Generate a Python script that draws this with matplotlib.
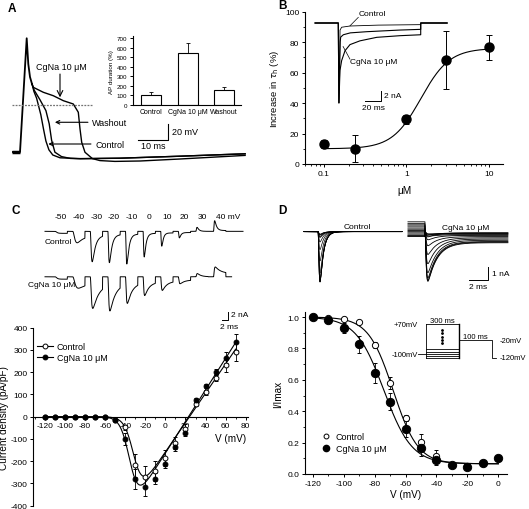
import numpy as np
import matplotlib.pyplot as plt
from matplotlib.lines import Line2D
from matplotlib.ticker import MultipleLocator, FixedLocator, NullFormatter

plt.rcParams['font.family'] = ['Liberation Sans', 'DejaVu Sans']
plt.rcParams['axes.unicode_minus'] = False
plt.rcParams['axes.facecolor'] = 'none'
plt.rcParams['axes.linewidth'] = 0.8
for a in ('xtick', 'ytick'):
    plt.rcParams[a + '.direction'] = 'out'
    plt.rcParams[a + '.major.size'] = 2.5
    plt.rcParams[a + '.minor.size'] = 1.5
    plt.rcParams[a + '.major.width'] = 0.7
    plt.rcParams[a + '.minor.width'] = 0.6
    plt.rcParams[a + '.major.pad'] = 1.5

# ---------------- data ----------------
# A: action potentials (ms, mV)
ap_up_t = [0, 2.67, 4.9, 5.43, 6.0, 6.67]
ap_up_v = [-58.75, -58.75, 83.4, 51.25, 35, 26.25]
ap_ctrl_t = [7.3, 8.2, 9.6, 10.5, 11.3, 12.3, 13.6, 16, 22.7, 36, 56, 77.7]
ap_ctrl_v = [17, 8.5, -12, -30, -45, -56, -62.5, -66, -67, -66.5, -64, -61]
ap_wash_t = [7.4, 9.33, 11.3, 12.4, 13.2, 14.3, 16.5, 19.5, 22.7, 36, 56, 77.7]
ap_wash_v = [18.5, 6.5, -7, -23.5, -44, -59, -64.5, -66.8, -67.2, -66.5, -64, -61]
ap_cgna_t = [7.1, 10.43, 13.77, 17.1, 20.43, 22.1, 22.67, 23.23, 24.33, 26.8,
             29.33, 34.3, 42.67, 56, 77.7]
ap_cgna_v = [22.1, 15.9, 11.6, 5.4, 1.25, -9.1, -30, -46.6, -59.1, -67,
             -69.5, -70.5, -70, -67.5, -63]

apd_labels = ['Control', 'CgNa 10 μM', 'Washout']
apd_mean = [100, 550, 158]
apd_err = [33, 100, 35]

# B: dose response
conc = [0.1, 0.24, 1, 3, 10]
tau_incr = [13, 10, 29.5, 68.5, 76.5]
tau_err = [2.5, 9, 3, 19, 8.5]
hill_bottom, hill_top, hill_ec50, hill_n = 10, 76, 1.5, 2.5

# B inset currents (ms from step onset, nA)
b_ctrl_t = [-29, 0, 0.8, 2.2, 4.2, 14.6, 50, 103, 103.01, 136]
b_ctrl_i = [0, 0, -17, -1.5, -0.9, -0.64, -0.45, -0.35, 0, 0]
b_mid_t = [-29, 0, 0.8, 2.4, 3, 6.3, 15, 35.5, 77, 103, 103.01, 136]
b_mid_i = [0, 0, -17, -4, -3, -2.5, -2.1, -1.85, -1.5, -1.35, 0, 0]
b_cgna_t = [-29, 0, 0.8, 2.1, 4.2, 8.4, 14.6, 27, 48, 77, 103, 103.01, 136]
b_cgna_i = [0, 0, -17, -10.1, -8, -5.9, -4.6, -3.8, -3.05, -2.7, -2.5, 0, 0]

# C: current families (nA) per test step
c_steps = ['-50', '-40', '-30', '-20', '-10', '0', '10', '20', '30', '40 mV']
c_ctrl_peak = [-0.5, -3.2, -7.8, -8.0, -8.3, -6.5, -3.8, -1.7, 1.0, 2.7]
c_cgna_peak = [-0.6, -3.1, -8.1, -8.7, -6.8, -4.8, -3.5, -1.8, 0.8, 2.5]
c_ctrl_late = [-0.5, -1.3, -1.0, -0.8, -0.7, -0.5, -0.4, -0.3, 0.0, 0.2]
c_cgna_late = [-0.6, -1.6, -1.8, -1.7, -1.5, -1.3, -1.1, -0.8, 0.0, 0.8]
c_tau_ctrl = [30, 1.5, 1.0, 0.8, 0.7, 0.6, 0.5, 0.5, 0.6, 0.6]
c_tau_cgna = [30, 2.5, 2.0, 1.8, 1.6, 1.5, 1.5, 1.5, 1.2, 1.8]
c_tau_act = [0.4, 0.6, 0.25, 0.2, 0.18, 0.15, 0.15, 0.15, 0.15, 0.15]

# C: I-V relation
iv_v = [-120, -110, -100, -90, -80, -70, -60, -50, -40, -30, -20, -10, 0,
        10, 20, 30, 40, 50, 60, 70]
iv_ctrl = [0, 0, 0, 0, 0, 0, 0, -15, -48, -219, -271, -244, -185,
           -118, -55, 57, 109, 176, 231, 291]
iv_ctrl_err = [0, 0, 0, 0, 0, 0, 0, 5, 10, 50, 50, 45, 35, 25, 20, 10, 12, 15, 30, 40]
iv_cgna = [0, 0, 0, 0, 0, 0, 0, -15, -100, -279, -316, -279, -212,
           -137, -73, 76, 139, 201, 266, 336]
iv_cgna_err = [0, 0, 0, 0, 0, 0, 0, 5, 25, 45, 40, 25, 20, 15, 15, 10, 10, 12, 25, 35]
iv_fit_ctrl = dict(g=6.6, erev=24, vh=-31, k=4.5)
iv_fit_cgna = dict(g=7.1, erev=23, vh=-35, k=4.5)

# D: steady-state inactivation
ss_v = [-120, -110, -100, -90, -80, -70, -60, -50, -40, -30, -20, -10, 0]
ss_ctrl = [1.0, 0.995, 0.99, 0.97, 0.82, 0.58, 0.355, 0.205, 0.115, 0.06, 0.05, 0.07, 0.10]
ss_ctrl_err = [0, 0, 0.01, 0.012, 0.02, 0.04, 0.02, 0.05, 0.04, 0.01, 0.01, 0.01, 0.01]
ss_cgna = [1.0, 0.98, 0.93, 0.825, 0.645, 0.46, 0.285, 0.165, 0.09, 0.055, 0.045, 0.07, 0.105]
ss_cgna_err = [0, 0.01, 0.03, 0.055, 0.065, 0.055, 0.05, 0.05, 0.03, 0.01, 0.01, 0.01, 0.01]
boltz_ctrl = dict(top=1.0, bottom=0.065, vh=-68, k=8)
boltz_cgna = dict(top=1.0, bottom=0.065, vh=-74, k=9)

# D: current families (nA)
d_peak = 4.1
d_cgna_pre = [-0.4, -0.35, -0.3, -0.2, -0.1, 0.0, 0.1, 0.2, 0.3, 0.45, 0.55, 0.65, 0.8]
d_cgna_late = [-0.9, -0.85, -0.8, -0.7, -0.6, -0.5, -0.4, -0.3, -0.25, -0.2, -0.15, -0.1, -0.1]

# D: protocol levels (mV)
proto_pre = [-120, -110, -100, -85, -70, 70]
proto_dots = [40, 20, 0, -20, -35]

# ---------------- figure ----------------
W, H = 529, 510
fig = plt.figure(figsize=(W / 100, H / 100), dpi=100)


def px_axes(x0, y0, x1, y1, **kw):
    return fig.add_axes([x0 / W, 1 - y1 / H, (x1 - x0) / W, (y1 - y0) / H], **kw)


def letter(x, y, s):
    fig.text(x / W, 1 - y / H, s, fontsize=8.5, fontweight='bold', va='center', ha='left')


def gate(t, ta, ti):
    act = (1 - np.exp(-t / ta)) ** 3
    w = act * np.exp(-t / ti)
    return act, w / w.max()


TS, LS, AS = 6, 7.2, 6.5  # tick, label, annotation sizes

# ---- A ----
letter(8, 9, 'A')
axA = px_axes(12, 30, 247, 175)
axA.set_xlim(0, 78.33)
axA.set_ylim(-86.25, 95)
axA.axis('off')
axA.plot(ap_up_t, ap_up_v, 'k', lw=1.3)
for tt, vv in ((ap_ctrl_t, ap_ctrl_v), (ap_wash_t, ap_wash_v), (ap_cgna_t, ap_cgna_v)):
    axA.plot(ap_up_t[-1:] + tt, ap_up_v[-1:] + vv, 'k', lw=1.0)
axA.plot([0, 2.6], [-58.75, -58.75], 'k', lw=2.5, solid_capstyle='butt')
axA.plot([0, 26.6], [0, 0], color='0.45', lw=0.9, ls=(0, (1.5, 1)))
axA.annotate('', xy=(16, 9.6), xytext=(16, 38.7),
             arrowprops=dict(arrowstyle='->', lw=0.8, color='k', shrinkA=0, shrinkB=0))
axA.text(16.3, 47.5, 'CgNa 10 μM', fontsize=AS, ha='center', va='center')
axA.annotate('Washout', xy=(14.3, -21.6), xytext=(26.7, -21.6), fontsize=AS, va='center',
             arrowprops=dict(arrowstyle='->', lw=0.8, color='k', shrinkA=1, shrinkB=0))
axA.annotate('Control', xy=(12.1, -48.75), xytext=(27.7, -48.75), fontsize=AS, va='center',
             arrowprops=dict(arrowstyle='->', lw=0.8, color='k', shrinkA=1, shrinkB=0))
axA.plot([42.1, 52.1, 52.1], [-43.4, -43.4, -23.4], 'k', lw=0.8)
axA.text(53.3, -33.4, '20 mV', fontsize=AS, va='center')
axA.text(47.1, -51, '10 ms', fontsize=AS, ha='center', va='center')

axAi = px_axes(132.7, 37.4, 240.7, 106)
axAi.bar(range(3), apd_mean, width=0.55, color='white', edgecolor='k', lw=0.8,
         yerr=[[0, 0, 0], apd_err], error_kw=dict(capsize=1.5, elinewidth=0.6, capthick=0.6))
axAi.set_xlim(-0.5, 2.45)
axAi.set_ylim(0, 720)
axAi.yaxis.set_major_locator(MultipleLocator(100))
axAi.set_xticks(range(3))
axAi.set_xticklabels(apd_labels, fontsize=5)
axAi.tick_params(axis='y', labelsize=4.5)
axAi.tick_params(axis='x', length=0, pad=2)
axAi.set_ylabel('AP duration (%)', fontsize=4.5, labelpad=2)
for s in ('top', 'right'):
    axAi.spines[s].set_visible(False)

# ---- B ----
letter(278, 6, 'B')
axB = px_axes(305, 12.7, 503, 165)
axB.set_xscale('log')
axB.set_xlim(0.0594, 14.8)
axB.set_ylim(0, 100)
xc = np.logspace(-1, 1, 200)
axB.plot(xc, hill_bottom + (hill_top - hill_bottom) / (1 + (hill_ec50 / xc) ** hill_n), 'k', lw=0.8)
axB.errorbar(conc, tau_incr, yerr=tau_err, fmt='o', color='k', ms=6.5, elinewidth=0.7,
             capsize=2, capthick=0.7)
axB.xaxis.set_major_locator(FixedLocator([0.1, 1, 10]))
axB.set_xticklabels(['0.1', '1', '10'])
axB.xaxis.set_minor_formatter(NullFormatter())
axB.yaxis.set_major_locator(MultipleLocator(20))
axB.yaxis.set_minor_locator(MultipleLocator(10))
axB.tick_params(labelsize=TS)
axB.set_xlabel('μM', fontsize=LS, labelpad=6)
axB.set_ylabel(r'Increase in $\tau_\mathrm{h}$ (%)', fontsize=6.8, labelpad=3)
for s in ('top', 'right'):
    axB.spines[s].set_visible(False)

axBi = px_axes(313, 10, 450, 110)
axBi.set_xlim(-31.6, 139.6)
axBi.set_ylim(-18.3, 2.98)
axBi.axis('off')
axBi.plot(b_ctrl_t, b_ctrl_i, 'k', lw=0.6)
axBi.plot(b_mid_t, b_mid_i, 'k', lw=0.8)
axBi.plot(b_cgna_t, b_cgna_i, 'k', lw=0.8)
axBi.plot([33.4, 53.4, 53.4], [-16.5, -16.5, -14.5], 'k', lw=0.7)
axBi.text(56.5, -15.5, '2 nA', fontsize=AS - 0.5, va='center')
axBi.text(43.4, -18.0, '20 ms', fontsize=AS - 0.5, ha='center', va='center')
axBi.plot([25, 14.6], [1.2, -0.6], 'k', lw=0.5)
axBi.text(25, 2.1, 'Control', fontsize=AS - 0.5, ha='left', va='center', clip_on=False)
axBi.plot([14.6, 6], [-7.7, -5.0], 'k', lw=0.5)
axBi.text(15, -8.2, 'CgNa 10 μM', fontsize=AS - 0.5, ha='left', va='center')

# ---- C ----
letter(11, 211, 'C')
axCt = px_axes(20, 205, 250, 330)
axCt.set_xlim(-8.33, 68.33)
axCt.set_ylim(-24.4, 6.83)
axCt.axis('off')
c_first, c_period, c_dur = 3.33, 5.87, 4.1
row_off = -11.35
for peaks, lates, taus, t_end, off in ((c_ctrl_peak, c_ctrl_late, c_tau_ctrl, 66, 0),
                                       (c_cgna_peak, c_cgna_late, c_tau_cgna, 62.2, row_off)):
    t = np.linspace(0, t_end, 4000)
    cur = np.zeros_like(t)
    for k in range(len(c_steps)):
        on = c_first + k * c_period
        m = (t >= on) & (t < on + c_dur)
        act, w = gate(t[m] - on + 1e-6, c_tau_act[k], taus[k])
        cur[m] = lates[k] * act + (peaks[k] - lates[k]) * w
    axCt.plot(t, cur + off, 'k', lw=0.7)
for k, lab in enumerate(c_steps):
    xc_ = c_first + k * c_period + 2.05
    if k == len(c_steps) - 1:
        axCt.text(xc_ - 1.3, 3.6, lab, fontsize=AS - 0.5, ha='left', va='center')
    else:
        axCt.text(xc_, 3.6, lab, fontsize=AS - 0.5, ha='center', va='center')
axCt.text(0, -2.6, 'Control', fontsize=AS - 0.5, va='center')
axCt.text(-5.7, -13.35, 'CgNa 10 μM', fontsize=AS - 0.5, va='center')
axCt.plot([58.9, 60.9, 60.9], [-22.2, -22.2, -20.2], 'k', lw=0.7)
axCt.text(62, -20.9, '2 nA', fontsize=AS - 0.5, va='center')
axCt.text(61.2, -23.8, '2 ms', fontsize=AS - 0.5, ha='center', va='center')

axC = px_axes(33.3, 328.7, 248, 506.7)
axC.set_xlim(-131.7, 82.3)
axC.set_ylim(-400, 400)
vv = np.linspace(-120, 70, 300)
for p, data, err, mfc in ((iv_fit_ctrl, iv_ctrl, iv_ctrl_err, 'white'),
                          (iv_fit_cgna, iv_cgna, iv_cgna_err, 'black')):
    fit = p['g'] * (vv - p['erev']) / (1 + np.exp((p['vh'] - vv) / p['k']))
    axC.plot(vv, fit, 'k', lw=0.8)
    axC.errorbar(iv_v, data, yerr=err, fmt='o', color='k', mfc=mfc, ms=3.5, mew=0.7,
                 elinewidth=0.6, capsize=1.5, capthick=0.6)
axC.spines['bottom'].set_position(('data', 0))
for s in ('top', 'right'):
    axC.spines[s].set_visible(False)
axC.xaxis.set_major_locator(MultipleLocator(20))
axC.xaxis.set_minor_locator(MultipleLocator(10))
axC.yaxis.set_major_locator(MultipleLocator(100))
axC.tick_params(labelsize=TS)
axC.text(65, -95, 'V (mV)', fontsize=LS, ha='center', va='center')
axC.set_ylabel('Current density (pA/pF)', fontsize=LS)
axC.yaxis.set_label_coords(-0.115, 0.5)
hC = [Line2D([0], [0], color='k', lw=0.8, marker='o', mfc='white', ms=3.5, mew=0.7),
      Line2D([0], [0], color='k', lw=0.8, marker='o', mfc='black', ms=3.5, mew=0.7)]
axC.legend(hC, ['Control', 'CgNa 10 μM'], loc='upper left', bbox_to_anchor=(0.017, 0.92),
           frameon=False, fontsize=AS, handlelength=1.8, handletextpad=0.4,
           labelspacing=0.2, borderaxespad=0, borderpad=0)

# ---- D ----
letter(278, 211, 'D')
axDt = px_axes(295, 205, 515, 295)
axDt.set_xlim(-2.42, 20.74)
axDt.set_ylim(-5.07, 2.25)
axDt.axis('off')
t_ctrl = np.linspace(-1.47, 8.84, 1200)
t_cg = np.linspace(-1.79, 8.73, 1200)
for k in range(len(ss_v)):
    cur = np.zeros_like(t_ctrl)
    m = t_ctrl >= 0
    act, w = gate(t_ctrl[m] + 1e-6, 0.08, 0.35)
    cur[m] = -d_peak * ss_ctrl[k] * w
    axDt.plot(t_ctrl, cur, 'k', lw=0.5)
    cur = np.full_like(t_cg, d_cgna_pre[k])
    m = t_cg >= 0
    act, w = gate(t_cg[m] + 1e-6, 0.08, 1.0)
    late = d_cgna_late[k]
    cur[m] = late * act + (-d_peak * ss_cgna[k] - late) * w
    axDt.plot(t_cg + 11.26, cur, 'k', lw=0.6)
axDt.text(4.1, 0.45, 'Control', fontsize=AS - 0.5, ha='center', va='center')
axDt.text(15.5, 0.3, 'CgNa 10 μM', fontsize=AS - 0.5, ha='center', va='center')
axDt.plot([15.93, 17.93, 17.93], [-3.9, -3.9, -2.89], 'k', lw=0.7)
axDt.text(18.3, -3.4, '1 nA', fontsize=AS - 0.5, va='center')
axDt.text(16.9, -4.45, '2 ms', fontsize=AS - 0.5, ha='center', va='center')

axD = px_axes(305, 313.3, 506.7, 475)
axD.set_xlim(-125, 5.4)
axD.set_ylim(0, 1.03)
vv = np.linspace(-120, 0, 300)
for p, data, err, mfc, ms in ((boltz_ctrl, ss_ctrl, ss_ctrl_err, 'white', 4.5),
                              (boltz_cgna, ss_cgna, ss_cgna_err, 'black', 6)):
    axD.plot(vv, p['bottom'] + (p['top'] - p['bottom']) / (1 + np.exp((vv - p['vh']) / p['k'])),
             'k', lw=0.8)
    axD.errorbar(ss_v, data, yerr=err, fmt='o', color='k', mfc=mfc, ms=ms, mew=0.7,
                 elinewidth=0.6, capsize=1.5, capthick=0.6)
for s in ('top', 'right'):
    axD.spines[s].set_visible(False)
axD.xaxis.set_major_locator(MultipleLocator(20))
axD.xaxis.set_minor_locator(MultipleLocator(10))
axD.yaxis.set_major_locator(MultipleLocator(0.2))
axD.yaxis.set_minor_locator(MultipleLocator(0.1))
axD.yaxis.set_major_formatter(lambda v, pos: '%.1f' % v)
axD.tick_params(labelsize=TS)
axD.set_xlabel('V (mV)', fontsize=LS, labelpad=2)
axD.set_ylabel('I/Imax', fontsize=LS, labelpad=3)
hD = [Line2D([0], [0], ls='none', color='k', marker='o', mfc='white', ms=3.5, mew=0.7),
      Line2D([0], [0], ls='none', color='k', marker='o', mfc='black', ms=4.5)]
axD.legend(hD, ['Control', 'CgNa 10 μM'], loc='upper left', bbox_to_anchor=(0.08, 0.26),
           frameon=False, fontsize=AS, handlelength=1.0, handletextpad=0.6,
           labelspacing=0.3, borderaxespad=0, borderpad=0)

axP = px_axes(388, 315, 520, 365)
axP.set_xlim(-1.14, 2.86)
axP.set_ylim(-155, 128.8)
axP.axis('off')
for lvl in proto_pre:
    axP.plot([0, 1], [lvl, lvl], 'k', lw=0.6)
axP.plot([0, 0], [-120, 70], 'k', lw=0.6)
axP.plot([1, 1], [-120, 70], 'k', lw=1.0)
axP.plot([-0.22, 0], [-100, -100], 'k', lw=0.6)
axP.plot([1, 2, 2, 2.12], [-20, -20, -120, -120], 'k', lw=0.6)
axP.plot([0.5] * len(proto_dots), proto_dots, 'k.', ms=2)
axP.text(-0.24, 70, '+70mV', fontsize=5.5, ha='right', va='center')
axP.text(-0.24, -100, '-100mV', fontsize=5.5, ha='right', va='center')
axP.text(0.5, 74, '300 ms', fontsize=5.5, ha='center', va='bottom')
axP.text(1.5, -16, '100 ms', fontsize=5.5, ha='center', va='bottom')
axP.text(2.25, -20, '-20mV', fontsize=5.5, ha='left', va='center', clip_on=False)
axP.text(2.25, -120, '-120mV', fontsize=5.5, ha='left', va='center', clip_on=False)

fig.savefig('out.png', dpi=100)
